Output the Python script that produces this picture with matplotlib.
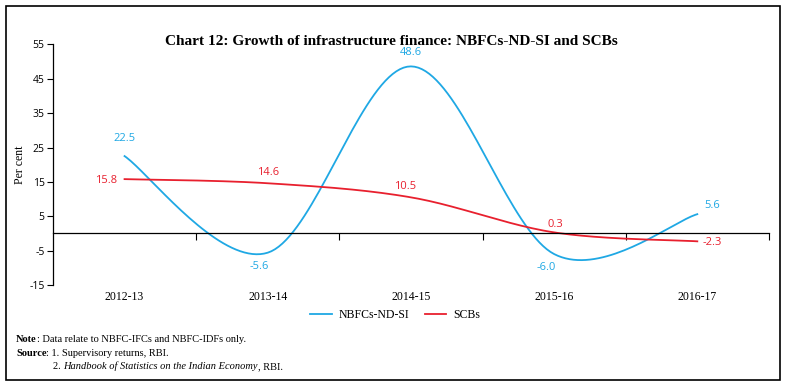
import numpy as np
import matplotlib.pyplot as plt
from matplotlib.patches import Rectangle

plt.rcParams['axes.unicode_minus'] = False

years = ['2012-13', '2013-14', '2014-15', '2015-16', '2016-17']
nbfc = [22.5, -5.6, 48.6, -6.0, 5.6]
scbs = [15.8, 14.6, 10.5, 0.3, -2.3]

blue = '#1fa8e4'
red = '#e8202e'
serif = 'Liberation Serif'
sans = 'Open Sans'


def smooth(x, y, n=40):
    # Excel-style smoothed line: cubic Bezier between points, Catmull-Rom tangents
    p = np.column_stack([x, y]).astype(float)
    ext = np.vstack([p[0], p, p[-1]])
    out = []
    t = np.linspace(0, 1, n)[:, None]
    for i in range(len(p) - 1):
        p0, p3 = ext[i + 1], ext[i + 2]
        c1 = p0 + (ext[i + 2] - ext[i]) / 6
        c2 = p3 - (ext[i + 3] - ext[i + 1]) / 6
        seg = (1 - t) ** 3 * p0 + 3 * (1 - t) ** 2 * t * c1 + 3 * (1 - t) * t ** 2 * c2 + t ** 3 * p3
        out.append(seg if i == 0 else seg[1:])
    out = np.vstack(out)
    return out[:, 0], out[:, 1]


fig = plt.figure(figsize=(7.87, 3.86), dpi=100)
ax = fig.add_axes([0.0673, 0.2617, 0.9097, 0.6233])
fig.patches.append(Rectangle((6 / 787, 6 / 386), 774 / 787, 374 / 386, transform=fig.transFigure,
                             fill=False, edgecolor='black', linewidth=1.2))

x = np.arange(1, len(years) + 1)
xs, ys = smooth(x, nbfc)
ax.plot(xs, ys, color=blue, linewidth=1.3, label='NBFCs-ND-SI')
xs, ys = smooth(x, scbs)
ax.plot(xs, ys, color=red, linewidth=1.3, label='SCBs')

# data labels
blue_off = [(0, 13), (-6, -10), (0, 10), (-6, -10), (11, 6)]
red_off = [(-13, -1), (0, 8), (-4, 8), (1, 6), (11, -1)]
for xi, v, (dx, dy) in zip(x, nbfc, blue_off):
    ax.annotate(f'{v:.1f}', (xi, v), xytext=(dx, dy), textcoords='offset points',
                ha='center', va='center', color=blue, fontsize=8, family=sans)
for xi, v, (dx, dy) in zip(x, scbs, red_off):
    ax.annotate(f'{v:.1f}', (xi, v), xytext=(dx, dy), textcoords='offset points',
                ha='center', va='center', color=red, fontsize=8, family=sans)

ax.set_xlim(0.5, 5.5)
ax.set_ylim(-15, 55)
ax.set_yticks(np.arange(-15, 56, 10))
ax.tick_params(axis='y', length=4, width=0.8, labelsize=7.5, pad=2)
for lab in ax.get_yticklabels():
    lab.set_family(sans)

ax.spines['top'].set_visible(False)
ax.spines['right'].set_visible(False)
ax.spines['bottom'].set_position(('data', 0))
ax.spines['left'].set_linewidth(0.9)
ax.spines['bottom'].set_linewidth(0.9)
ax.set_xticks(np.arange(1.5, 6, 1))
ax.tick_params(axis='x', length=5, width=0.8, direction='out', labelbottom=False)
for xi, yr in zip(x, years):
    ax.text(xi, -0.05, yr, transform=ax.get_xaxis_transform(), ha='center', va='center',
            fontsize=8.5, family=serif)

ax.set_ylabel('Per cent', fontsize=8.5, family=serif, labelpad=2)

fig.text(0.497, 0.893, 'Chart 12: Growth of infrastructure finance: NBFCs-ND-SI and SCBs',
         ha='center', va='center', fontsize=11, fontweight='bold', family=serif)

ax.legend(loc='center', bbox_to_anchor=(0.478, -0.125), ncol=2, frameon=False,
          prop={'family': serif, 'size': 8.5}, handlelength=1.8, handletextpad=0.6,
          columnspacing=1.3)

# footnotes, pieces chained one after the other
fs = 7.5


def chain(prev, s, **kw):
    return ax.annotate(s, xy=(1, 0), xycoords=prev, va='bottom', ha='left',
                       fontsize=fs, family=serif, annotation_clip=False, **kw)


n1 = fig.text(16 / 787, 1 - 342 / 386, 'Note', fontsize=fs, family=serif, fontweight='bold')
chain(n1, ': Data relate to NBFC-IFCs and NBFC-IDFs only.')
s1 = fig.text(16 / 787, 1 - 356 / 386, 'Source', fontsize=fs, family=serif, fontweight='bold')
chain(s1, ': 1. Supervisory returns, RBI.')
h1 = fig.text(53 / 787, 1 - 369 / 386, '2. ', fontsize=fs, family=serif)
h2 = chain(h1, 'Handbook of Statistics on the Indian Economy', style='italic')
chain(h2, ', RBI.')

plt.savefig('out.png', dpi=100)
plt.close()
